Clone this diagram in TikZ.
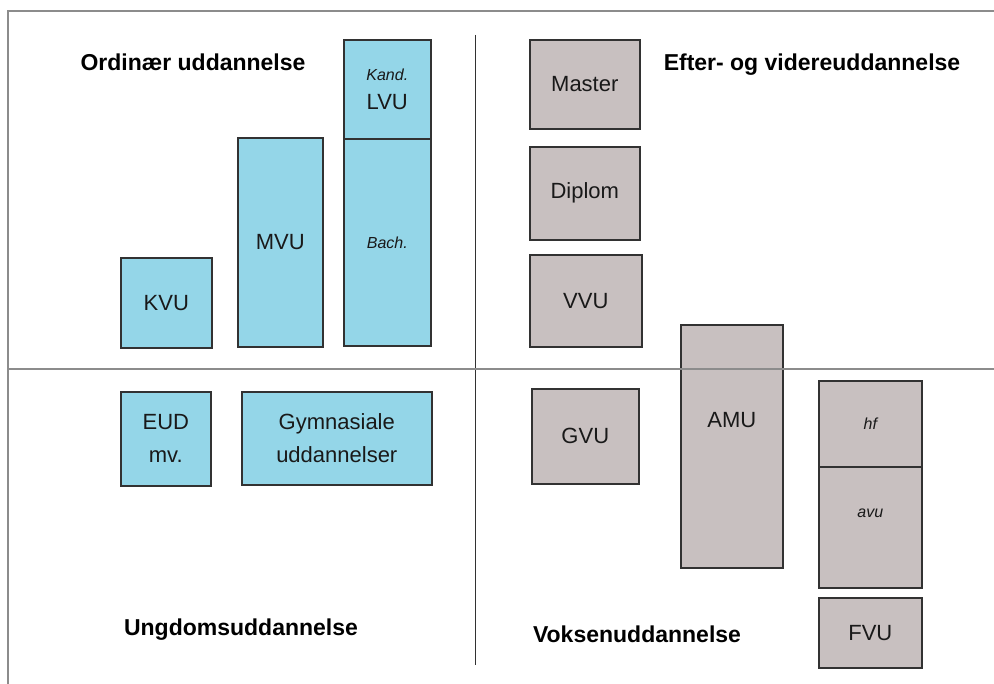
\documentclass[tikz,border=0pt]{standalone}
\usepackage{fontspec}
\setmainfont{Liberation Sans}
\definecolor{boxblue}{RGB}{148,214,232}
\definecolor{boxgray}{RGB}{200,192,192}
\definecolor{edgecol}{RGB}{50,50,50}
\definecolor{framecol}{RGB}{140,140,140}
\definecolor{textcol}{RGB}{25,25,25}
\tikzset{
  box/.style={draw=edgecol, line width=1.6pt, inner sep=0pt, align=center, anchor=north west,
              font=\fontsize{22}{33}\selectfont, text=textcol},
  bluebox/.style={box, fill=boxblue},
  graybox/.style={box, fill=boxgray},
  heading/.style={font=\bfseries\fontsize{23}{28}\selectfont, anchor=base, inner sep=0pt},
  boxlabel/.style={font=\fontsize{22}{33}\selectfont, inner sep=0pt, text=textcol},
}
\newcommand{\smallit}[1]{{\itshape\fontsize{16}{20}\selectfont #1}}
\begin{document}
\begin{tikzpicture}[x=1pt,y=-1pt]
\useasboundingbox (0,0) rectangle (994,684);
\fill[white] (0,0) rectangle (994,684);
% frame
\draw[framecol, line width=2pt] (8,700) -- (8,11) -- (1000,11);
% vertical divider
\coordinate (vtop) at (475,35);
\coordinate (vbot) at (475,665);
\draw[edgecol, line width=0.8pt] (vtop) -- (vbot);
% headings
\node[heading] (h1) at (193,71) {Ordinær uddannelse};
\node[heading] (h2) at (812,71) {Efter- og videreuddannelse};
\node[heading] (h3) at (241,635) {Ungdomsuddannelse};
\node[heading] (h4) at (637,642) {Voksenuddannelse};
% blue boxes
\node[bluebox, minimum width=91pt, minimum height=90pt] (kvu) at (120,257) {KVU};
\node[bluebox, minimum width=85pt, minimum height=209pt] (mvu) at (237,137) {MVU};
\node[bluebox, minimum width=87pt, minimum height=99pt] (lvu) at (343,39) {\smallit{Kand.}\\[-4pt]LVU};
\node[bluebox, minimum width=87pt, minimum height=207pt] (bach) at (343,138) {\smallit{Bach.}};
\node[bluebox, minimum width=90pt, minimum height=94pt] (eud) at (120,391) {EUD\\mv.};
\node[bluebox, minimum width=190pt, minimum height=93pt] (gym) at (241,391) {Gymnasiale\\uddannelser};
% gray boxes
\node[graybox, minimum width=110pt, minimum height=89pt] (master) at (529,39) {Master};
\node[graybox, minimum width=110pt, minimum height=93pt] (diplom) at (529,146) {Diplom};
\node[graybox, minimum width=112pt, minimum height=92pt] (vvu) at (529,254) {VVU};
\node[graybox, minimum width=107pt, minimum height=95pt] (gvu) at (531,388) {GVU};
\node[graybox, minimum width=102pt, minimum height=243pt] (amu) at (680,324) {};
\node[boxlabel] (amulbl) at ([yshift=-96pt]amu.north) {AMU};
\node[graybox, minimum width=103pt, minimum height=86pt] (hf) at (818,380) {\smallit{hf}};
\node[graybox, minimum width=103pt, minimum height=121pt] (avu) at (818,466) {\smallit{avu}\\[-4pt]};
\node[graybox, minimum width=103pt, minimum height=70pt] (fvu) at (818,597) {FVU};
% horizontal divider
\coordinate (hl) at (8,369);
\coordinate (hr) at (994,369);
\draw[framecol, line width=2.2pt] (hl) -- (hr);
\end{tikzpicture}
\end{document}
